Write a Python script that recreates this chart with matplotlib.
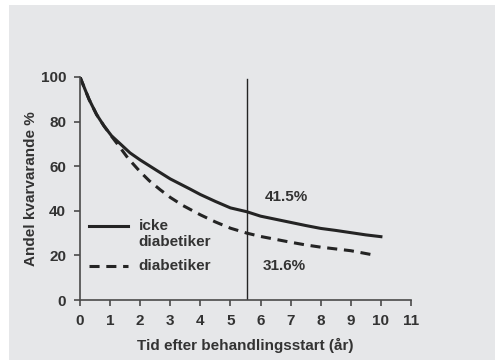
import matplotlib
matplotlib.use("Agg")
from matplotlib import pyplot as plt
from matplotlib.patches import Rectangle

plt.rcParams['font.family'] = ['Liberation Sans', 'DejaVu Sans']

# andel kvarvarande (%) per år
years_icke = [0, 0.15, 0.3, 0.55, 0.8, 1.05, 1.3, 1.66, 2, 2.55, 3, 3.65, 4, 4.5,
              5, 5.54, 6, 6.5, 7, 7.5, 8, 8.5, 9, 9.5, 10]
icke = [100, 95, 90, 83.2, 78, 73.6, 70.5, 66, 62.8, 58.1, 54.3, 49.8, 47.3, 44.2,
        41.3, 39.6, 37.6, 36.2, 34.8, 33.4, 32.1, 31.2, 30.2, 29.2, 28.4]

years_diab = [0, 0.15, 0.3, 0.55, 0.8, 1.05, 1.27, 1.6, 2, 2.3, 2.66, 3, 3.43, 4,
              4.5, 5, 5.54, 6, 6.5, 7, 7.5, 8, 8.5, 9, 9.75]
diab = [100, 95, 90, 83.2, 78, 73.4, 69.5, 63.5, 57.5, 53.5, 49.5, 46, 42.3, 38.2,
        35, 32.2, 30, 28.5, 27.2, 25.9, 24.7, 23.7, 22.9, 22.1, 20.2]

cut_year = 5.54
label_icke = "41.5%"
label_diab = "31.6%"

ink = '#242424'
txt = '#333333'
fs = 11

fig = plt.figure(figsize=(4.97, 3.61), dpi=100, facecolor='white')
fig.add_artist(Rectangle((9 / 497, 1 / 361), 486 / 497, 355 / 361,
                         transform=fig.transFigure, facecolor='#e6e7e9',
                         edgecolor='none', zorder=-10))

ax = fig.add_axes([80 / 497, 61 / 361, 331 / 497, 223 / 361])
ax.set_facecolor('none')

ax.plot(years_icke, icke, color=ink, lw=2.2)
ax.plot(years_diab, diab, color=ink, lw=2.2, linestyle=(0, (3.3, 2.2)))
ax.plot([cut_year, cut_year], [0, 99], color=ink, lw=1.0)

ax.text(6.87, 46.2, label_icke, fontsize=fs, fontweight='bold', color=txt,
        ha='center', va='center')
ax.text(6.8, 15.3, label_diab, fontsize=fs, fontweight='bold', color=txt,
        ha='center', va='center')

# legend drawn by hand
ax.plot([0.3, 1.6], [33.3, 33.3], color=ink, lw=2.2, clip_on=False)
ax.plot([0.3, 1.6], [15.4, 15.4], color=ink, lw=2.2, linestyle=(0, (3.3, 2.2)),
        clip_on=False)
ax.text(1.95, 33.3, "icke", fontsize=fs, fontweight='bold', color=txt,
        ha='left', va='center')
ax.text(1.95, 26.1, "diabetiker", fontsize=fs, fontweight='bold', color=txt,
        ha='left', va='center')
ax.text(1.95, 15.4, "diabetiker", fontsize=fs, fontweight='bold', color=txt,
        ha='left', va='center')

ax.set_xlim(0, 11)
ax.set_ylim(0, 100)
ax.set_xticks(range(0, 12))
ax.set_yticks(range(0, 101, 20))
ax.spines['top'].set_visible(False)
ax.spines['right'].set_visible(False)
for s in ('left', 'bottom'):
    ax.spines[s].set_color('#4a4a4a')
    ax.spines[s].set_linewidth(1.2)
ax.tick_params(direction='out', length=4, width=1.2, color='#4a4a4a',
               labelsize=fs, labelcolor=txt, pad=6)
for lab in ax.get_xticklabels() + ax.get_yticklabels():
    lab.set_fontweight('bold')

ax.set_xlabel("Tid efter behandlingsstart (år)", fontsize=fs, fontweight='bold',
              color=txt, labelpad=7)
ax.set_ylabel("Andel kvarvarande %", fontsize=fs, fontweight='bold',
              color=txt, labelpad=2)

fig.savefig('out.png', dpi=100, facecolor='white')
